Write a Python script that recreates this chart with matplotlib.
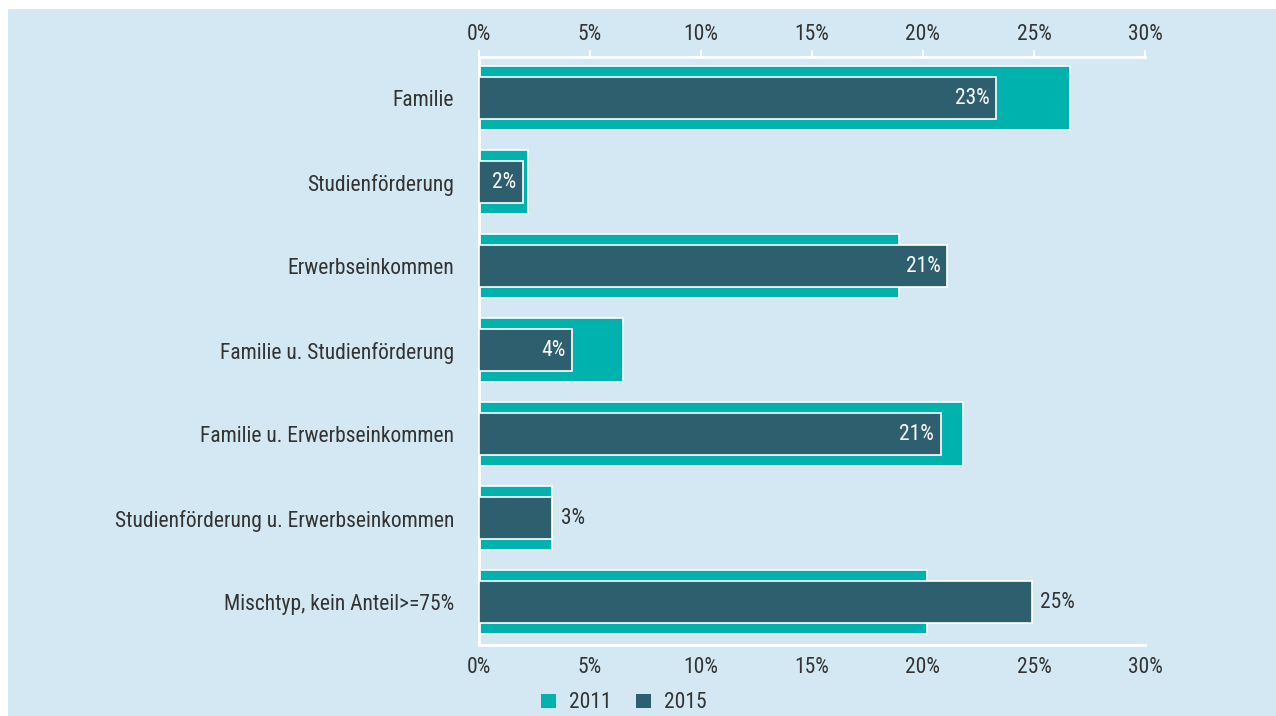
import matplotlib
matplotlib.use("Agg")
import matplotlib.pyplot as plt
from matplotlib import font_manager
from matplotlib.patches import Rectangle, Patch

# pick a condensed sans font if available
chosen = None
prefs = ["Liberation Sans Narrow", "Roboto Condensed", "Open Sans Condensed",
         "Noto Sans Condensed", "DejaVu Sans Condensed"]
entries = font_manager.fontManager.ttflist
for p in prefs:
    for e in entries:
        if e.name == p and e.style == "normal" and e.weight in (400, "normal", "regular"):
            chosen = (e.name, e.stretch)
            break
    if chosen:
        break
if not chosen:
    for e in entries:
        if e.style == "normal" and str(e.stretch) in ("condensed", "semi-condensed", "extra-condensed") \
                and e.weight in (400, "normal", "regular"):
            chosen = (e.name, e.stretch)
            break
if chosen:
    plt.rcParams['font.family'] = [chosen[0], 'DejaVu Sans']
    plt.rcParams['font.stretch'] = chosen[1]
    FS = 15.5
else:
    plt.rcParams['font.family'] = ['DejaVu Sans']
    FS = 12

categories = ["Familie", "Studienförderung", "Erwerbseinkommen",
              "Familie u. Studienförderung", "Familie u. Erwerbseinkommen",
              "Studienförderung u. Erwerbseinkommen", "Mischtyp, kein Anteil>=75%"]
values_2011 = [26.6, 2.2, 18.9, 6.5, 21.8, 3.3, 20.2]
values_2015 = [23.3, 2.0, 21.1, 4.2, 20.8, 3.3, 24.9]
labels_2015 = ["23%", "2%", "21%", "4%", "21%", "3%", "25%"]
label_inside = [True, True, True, True, True, False, False]
xticks = [0, 5, 10, 15, 20, 25, 30]
xtick_labels = ["0%", "5%", "10%", "15%", "20%", "25%", "30%"]
series_names = ["2011", "2015"]

C2011 = "#00b2ae"
C2015 = "#2d5f6f"
BG = "#d3e8f3"
TXT = "#333333"

W, H = 1276, 716
fig = plt.figure(figsize=(W / 100, H / 100), dpi=100)
fig.patch.set_facecolor("white")
fig.patches.append(Rectangle((8 / W, 0), 1 - 8 / W, 1 - 9 / H, transform=fig.transFigure,
                             facecolor=BG, edgecolor="none", zorder=-10))

ax = fig.add_axes([479 / W, 1 - 645 / H, 666 / W, 588 / H])
ax.set_facecolor("none")

y = list(range(len(categories)))
ax.barh(y, values_2011, height=0.76, color=C2011, edgecolor="white", linewidth=1.2, zorder=2)
ax.barh(y, values_2015, height=0.50, color=C2015, edgecolor="white", linewidth=1.2, zorder=3)

for yi, v, lab, inside in zip(y, values_2015, labels_2015, label_inside):
    if inside:
        ax.annotate(lab, (v, yi), xytext=(-5, 0), textcoords="offset points",
                    ha="right", va="center", color="white", fontsize=FS, zorder=4)
    else:
        ax.annotate(lab, (v, yi), xytext=(6, 0), textcoords="offset points",
                    ha="left", va="center", color=TXT, fontsize=FS, zorder=4)

ax.set_xlim(0, 30)
ax.set_ylim(6.51, -0.49)
ax.set_yticks(y)
ax.set_yticklabels(categories, fontsize=FS, color=TXT)
ax.tick_params(axis="y", length=0, pad=18)

ax.set_xticks(xticks)
ax.set_xticklabels(xtick_labels, fontsize=FS, color=TXT)
ax.tick_params(axis="x", top=True, labeltop=True, bottom=False, labelbottom=True,
               direction="out", length=5, width=1.5, color="white", pad=3.5)

for s in ["top", "bottom", "left"]:
    ax.spines[s].set_color("white")
    ax.spines[s].set_linewidth(2)
ax.spines["right"].set_visible(False)

handles = [Patch(facecolor=C2011, edgecolor="none"), Patch(facecolor=C2015, edgecolor="none")]
fig.legend(handles, series_names, loc="center left", bbox_to_anchor=(522 / W, 1 - 703 / H),
           frameon=False, ncol=2, fontsize=FS, handlelength=0.68, handleheight=0.68,
           handletextpad=0.6, columnspacing=1.15, labelcolor=TXT)

fig.savefig("out.png", dpi=100)
